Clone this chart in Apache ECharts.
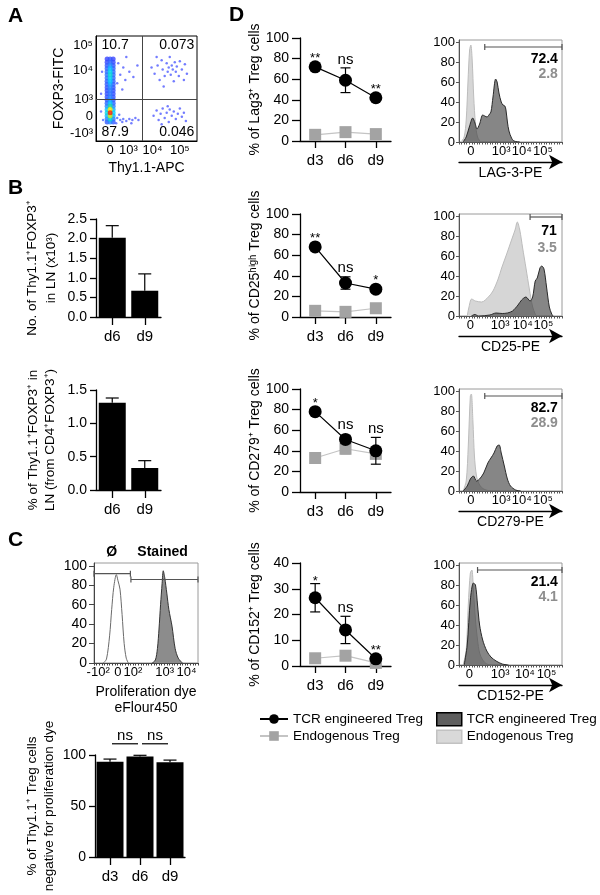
<!DOCTYPE html>
<html>
<head>
<meta charset="utf-8">
<title>Treg figure</title>
<script src="https://cdn.jsdelivr.net/npm/echarts@6.0.0/dist/echarts.min.js"></script>
<style>
html,body{margin:0;padding:0;background:#fff;}
#chart{width:600px;height:895px;}
</style>
</head>
<body>
<div id="chart"></div>
<script>
const FONT = '"Liberation Sans", Arial, Helvetica, sans-serif';

// ================= DATA =================
// ---- Panel A : flow dot plot (display units 0-100 on biexponential axes)
const flowXTickPos = [14, 32, 56, 83];
const flowXTickText = ['0', '10³', '10⁴', '10⁵'];
const flowYTickPos = [7.6, 23, 40, 67, 91];
const flowYTickText = ['-10³', '0', '10³', '10⁴', '10⁵'];
const flowGateX = 46;
const flowGateY = 40;
const flowQuadText = ['10.7', '0.073', '87.9', '0.046'];
const flowQuadPos = [[19, 91], [80, 91], [19, 8], [80, 8]];
const flowColumnX = [11, 14, 17];
const flowColumnRows = [ // [y, density at each column x]
  [78, 0.03, 0.08, 0.03],
  [75, 0.05, 0.14, 0.05],
  [72, 0.09, 0.24, 0.08],
  [69, 0.13, 0.34, 0.12],
  [66, 0.16, 0.42, 0.15],
  [63, 0.18, 0.45, 0.16],
  [60, 0.16, 0.42, 0.14],
  [57, 0.13, 0.36, 0.12],
  [54, 0.10, 0.28, 0.10],
  [51, 0.08, 0.23, 0.08],
  [48, 0.07, 0.20, 0.07],
  [45, 0.07, 0.19, 0.07],
  [42, 0.08, 0.21, 0.08],
  [39, 0.10, 0.26, 0.10],
  [36, 0.14, 0.36, 0.13],
  [33, 0.22, 0.52, 0.20],
  [30, 0.36, 0.80, 0.32],
  [27, 0.44, 1.00, 0.40],
  [24, 0.32, 0.74, 0.30],
  [21, 0.20, 0.46, 0.18],
  [18, 0.10, 0.24, 0.09]
];
const flowSparse = [ // [x, y, density]
  [58,64,0.03],[61,72,0.03],[63,58,0.03],[65,77,0.03],[66,68,0.04],[68,62,0.03],[70,74,0.04],
  [71,66,0.05],[72,70,0.05],[73,80,0.03],[74,63,0.04],[75,72,0.05],[76,68,0.05],[77,57,0.03],
  [78,75,0.04],[79,66,0.04],[80,71,0.04],[82,62,0.03],[83,76,0.03],[85,68,0.03],[87,58,0.03],
  [88,73,0.03],[90,64,0.03],[67,52,0.03],[60,80,0.03],[55,70,0.03],
  [57,24,0.03],[60,29,0.03],[62,20,0.03],[64,26,0.04],[66,31,0.03],[68,22,0.04],[70,27,0.04],
  [72,18,0.03],[73,30,0.03],[75,24,0.04],[77,28,0.03],[79,21,0.03],[81,26,0.03],[83,31,0.03],
  [85,23,0.03],[87,27,0.03],[89,19,0.03],[71,33,0.03],[65,16,0.03],
  [22,74,0.04],[24,63,0.04],[27,70,0.03],[21,55,0.04],[29,58,0.03],[33,66,0.03],[37,61,0.03],
  [26,49,0.03],[41,72,0.03],[6,66,0.04],[5,45,0.04],[30,80,0.03],
  [21,22,0.10],[24,20,0.08],[27,21,0.07],[30,19,0.06],[33,21,0.05],[36,20,0.05],[39,22,0.04],
  [42,20,0.04],[23,25,0.07],[26,18,0.06],[20,17,0.06],[7,20,0.08],[5,28,0.06],[35,17,0.04]
];

// ---- Panel B : bar charts
const bDays = ['d6', 'd9'];
const bCountMean = [2.02, 0.67];
const bCountErr = [0.31, 0.43];
const bPctMean = [1.31, 0.33];
const bPctErr = [0.07, 0.11];

// ---- Panel C : proliferation histogram + bars
const cHistTickPos = [4, 23, 37.5, 68, 89];
const cHistTickText = ['-10²', '0', '10²', '10³', '10⁴'];
const cUnstained = [[9,0],[12,4],[15,28],[17,55],[19,78],[21.5,91],[23,85],[25,76],[27,50],[29,20],[31,5],[33,0]];
const cStained = [[56,0],[59,3],[61,15],[62.5,35],[64,60],[65.5,82],[66.6,95],[68,88],[70,72],[72,55],[75,38],[78,15],[81,5],[85,0]];
const cGates = [[0, 35, 92], [35.5, 100, 86]];
const cHeaderText = ['Ø', 'Stained'];
const cHeaderPos = [[17, 114], [66, 114]];
const cDays = ['d3', 'd6', 'd9'];
const cBarMean = [93.5, 98.5, 93];
const cBarErr = [2.5, 1.2, 2];
const cBarSig = ['ns', 'ns'];
const cBarSigPairs = [[0, 1], [1, 2]];
const cBarSigLevel = 111;

// ---- Panel D : line charts
const dDays = ['d3', 'd6', 'd9'];
const lag3Tcr = [72, 59, 42];
const lag3TcrErr = [0, 12, 0];
const lag3Endo = [6, 8.6, 6.7];
const lag3EndoErr = [0, 0, 0];
const lag3Sig = ['**', 'ns', '**'];
const cd25Tcr = [68, 33, 27];
const cd25TcrErr = [0, 6, 0];
const cd25Endo = [6, 5, 8.5];
const cd25EndoErr = [0, 0, 0];
const cd25Sig = ['**', 'ns', '*'];
const cd279Tcr = [78, 51, 40];
const cd279TcrErr = [0, 4, 13];
const cd279Endo = [33, 42, 37];
const cd279EndoErr = [0, 5, 4];
const cd279Sig = ['*', 'ns', 'ns'];
const cd152Tcr = [26.5, 14, 2.8];
const cd152TcrErr = [5.5, 5.3, 0];
const cd152Endo = [3, 4, 1.2];
const cd152EndoErr = [0, 0, 0];
const cd152Sig = ['*', 'ns', '**'];

// ---- Panel D : histograms (x in display units 0-100, y in % of max)
const dHistTickText = ['0', '10³', '10⁴', '10⁵'];
const lag3HistTicks = [11.5, 41, 61, 81.5];
const cd25HistTicks = [11, 40, 62, 82];
const cd279HistTicks = [11.5, 41, 61, 81.5];
const cd152HistTicks = [10, 40, 64, 85];
const lag3HistEndo = [[2,0],[5,5],[7,22],[8.7,60],[10.3,92],[11.5,97],[12.8,82],[14.3,45],[16,18],[18,5],[21,0]];
const lag3HistTcr = [[3.9,0],[7,5],[10,15],[13.3,24],[15.5,19],[17.5,13],[20,18],[23,27],[25,26],[27.2,25],[29,27],[31,30],[33,45],[35.6,63],[37,60],[38.8,49],[41,40],[42.7,37],[44.5,36],[45.6,32],[47,20],[48.5,11],[51,4],[53.4,1],[59,0]];
const cd25HistEndo = [[8,0],[9.5,8],[12.3,17],[16,15],[22,14],[28.5,19],[33,25],[38,37],[41.4,48],[46.3,62],[51,76],[54.4,86],[56.6,94],[59,86],[61.8,68],[65,48],[68.3,27],[71.5,9],[74,2],[75.4,0]];
const cd25HistTcr = [[12,0],[15.5,1.5],[19,0],[30,1],[36,3],[42,2.5],[47,3],[52,5],[57.3,11],[60.8,16],[65,19],[69,15],[71.5,19],[74,35],[76,38],[78.6,48],[80.3,50],[82.5,47],[85,29],[87.7,9],[90,2],[91.3,0]];
const cd279HistEndo = [[4,0],[7,10],[9,45],[11,95],[12,97],[13.5,70],[15,35],[17,15],[20,6],[24,2],[30,0]];
const cd279HistTcr = [[4,0],[8,5],[11,12],[14,15],[17,10],[20,12],[24,18],[28,28],[31,33],[34,38],[37,45],[39,46],[41,38],[44,25],[47,12],[50,5],[55,1],[60,0]];
const cd152HistEndo = [[4,0],[7,15],[9,60],[11,92],[12.5,95],[14,75],[16,45],[18,25],[20,12],[23,5],[27,1],[32,0]];
const cd152HistTcr = [[5,0],[8,20],[11,65],[14,82],[16,80],[18,60],[20,40],[23,25],[27,14],[31,8],[36,4],[42,1],[48,0]];
const lag3Gate = [25, 100, 95];
const cd25Gate = [69, 100, 99];
const cd279Gate = [25, 100, 95];
const cd152Gate = [18, 100, 95];
const lag3Pct = ['72.4', '2.8'];
const cd25Pct = ['71', '3.5'];
const cd279Pct = ['82.7', '28.9'];
const cd152Pct = ['21.4', '4.1'];

// ================= BUILD =================
const grids = [], xAxes = [], yAxes = [], series = [];
const txt = (size, extra) => Object.assign({fontFamily: FONT, fontSize: size, color: '#000'}, extra || {});
function pick(pos, labels) {
  return v => { for (let i = 0; i < pos.length; i++) if (Math.abs(pos[i] - v) < 1e-6) return labels[i]; return ''; };
}
const AX = {show: true, lineStyle: {color: '#000', width: 1.3}};
const TK = (len) => ({show: true, length: len, lineStyle: {color: '#000', width: 1.3}});

function errorBars(xi, yi, means, errs, color, capW, both, z) {
  return {type: 'custom', xAxisIndex: xi, yAxisIndex: yi, z: z, silent: true,
    data: means.map((m, i) => [i, m, errs[i]]),
    renderItem: function (params, api) {
      const i = api.value(0), m = api.value(1), e = api.value(2);
      if (!e) return null;
      const t = api.coord([i, m + e]), b = api.coord([i, both ? m - e : m]);
      const st = {stroke: color, lineWidth: 1.2};
      const ch = [
        {type: 'line', shape: {x1: t[0], y1: t[1], x2: b[0], y2: b[1]}, style: st},
        {type: 'line', shape: {x1: t[0] - capW / 2, y1: t[1], x2: t[0] + capW / 2, y2: t[1]}, style: st}];
      if (both) ch.push({type: 'line', shape: {x1: b[0] - capW / 2, y1: b[1], x2: b[0] + capW / 2, y2: b[1]}, style: st});
      return {type: 'group', children: ch};
    }};
}
function sigLabels(xi, yi, means, errs, texts, markerR, z) {
  return {type: 'custom', xAxisIndex: xi, yAxisIndex: yi, z: z, silent: true, clip: false,
    data: means.map((m, i) => [i, m, errs[i]]),
    renderItem: function (params, api) {
      const i = api.value(0), m = api.value(1), e = api.value(2);
      const c = api.coord([i, m]), t = api.coord([i, m + e]);
      const top = Math.min(t[1], c[1] - markerR);
      const s = texts[params.dataIndex];
      const star = s.indexOf('*') >= 0;
      return {type: 'text', x: c[0], y: top - (star ? 2 : 8.5),
        style: {text: s, align: 'center', verticalAlign: 'middle', fontFamily: FONT, fontSize: star ? 13 : 15, fill: '#000'}};
    }};
}
function textSeries(xi, yi, pts, texts, styles, z) {
  return {type: 'custom', xAxisIndex: xi, yAxisIndex: yi, z: z || 10, silent: true, clip: false,
    data: pts.map(p => [p[0], p[1]]),
    renderItem: function (params, api) {
      const c = api.coord([api.value(0), api.value(1)]);
      const s = Array.isArray(styles) ? styles[params.dataIndex] : styles;
      return {type: 'text', x: c[0], y: c[1],
        style: {text: texts[params.dataIndex], align: s.align || 'center', verticalAlign: 'middle',
          fontFamily: FONT, fontSize: s.fontSize || 14, fontWeight: s.fontWeight || 'normal', fill: s.color || '#000'}};
    }};
}
function gateSeries(xi, yi, gates, color) {
  return {type: 'custom', xAxisIndex: xi, yAxisIndex: yi, z: 8, silent: true, clip: false,
    data: gates,
    renderItem: function (params, api) {
      const a = api.coord([api.value(0), api.value(2)]), b = api.coord([api.value(1), api.value(2)]);
      const st = {stroke: color, lineWidth: 1.2};
      return {type: 'group', children: [
        {type: 'line', shape: {x1: a[0], y1: a[1], x2: b[0], y2: b[1]}, style: st},
        {type: 'line', shape: {x1: a[0], y1: a[1] - 3, x2: a[0], y2: a[1] + 3}, style: st},
        {type: 'line', shape: {x1: b[0], y1: b[1] - 3, x2: b[0], y2: b[1] + 3}, style: st}]};
    }};
}
function brackets(xi, yi, pairs, level, texts, inset) {
  return {type: 'custom', xAxisIndex: xi, yAxisIndex: yi, z: 8, silent: true, clip: false,
    data: pairs.map(p => [p[0], level, p[1]]),
    renderItem: function (params, api) {
      const a = api.coord([api.value(0), api.value(1)]), b = api.coord([api.value(2), api.value(1)]);
      return {type: 'group', children: [
        {type: 'line', shape: {x1: a[0] + inset, y1: a[1], x2: b[0] - inset, y2: b[1]}, style: {stroke: '#000', lineWidth: 1.2}},
        {type: 'text', x: (a[0] + b[0]) / 2, y: a[1] - 8,
          style: {text: texts[params.dataIndex], align: 'center', verticalAlign: 'middle', fontSize: 15, fontFamily: FONT, fill: '#000'}}]};
    }};
}

// ---- Panel A
{
  const g = grids.length;
  grids.push({left: 96, top: 36, width: 101, height: 105, show: true, borderColor: '#000', borderWidth: 1});
  const xi = xAxes.length;
  xAxes.push({type: 'value', gridIndex: g, min: 0, max: 100,
    axisLine: {show: true, lineStyle: {color: '#000', width: 1}}, axisTick: {show: false},
    axisLabel: Object.assign(txt(13, {margin: 3}), {customValues: flowXTickPos, formatter: pick(flowXTickPos, flowXTickText)}),
    splitLine: {show: false}, name: 'Thy1.1-APC', nameLocation: 'middle', nameGap: 20, nameTextStyle: txt(14)});
  const yi = yAxes.length;
  yAxes.push({type: 'value', gridIndex: g, min: 0, max: 100,
    axisLine: {show: true, lineStyle: {color: '#000', width: 1}}, axisTick: {show: false},
    axisLabel: Object.assign(txt(13, {margin: 3}), {customValues: flowYTickPos, formatter: pick(flowYTickPos, flowYTickText)}),
    splitLine: {show: false}, name: 'FOXP3-FITC', nameLocation: 'middle', nameGap: 28, nameRotate: 90, nameTextStyle: txt(14)});
  const core = [];
  flowColumnRows.forEach(r => flowColumnX.forEach((x, j) => core.push([x, r[0], r[j + 1]])));
  core.sort((a, b) => a[2] - b[2]);
  series.push({type: 'scatter', name: 'flowSparse', xAxisIndex: xi, yAxisIndex: yi, data: flowSparse,
    symbolSize: 2.5, itemStyle: {opacity: 0.7}, silent: true, z: 2});
  series.push({type: 'scatter', name: 'flowCore', xAxisIndex: xi, yAxisIndex: yi, data: core,
    symbolSize: 5, silent: true, z: 3,
    markLine: {silent: true, symbol: ['none', 'none'], label: {show: false},
      lineStyle: {color: '#444', width: 1, type: 'solid'},
      data: [{xAxis: flowGateX}, {yAxis: flowGateY}]}});
  series.push(textSeries(xi, yi, flowQuadPos, flowQuadText, {fontSize: 14}));
}

// ---- Panel B (two bar charts)
function barChart(left, top, width, height, days, means, errs, max, interval, name, nameGap, lineH, fmt) {
  const g = grids.length;
  grids.push({left: left, top: top, width: width, height: height});
  const xi = xAxes.length;
  xAxes.push({type: 'category', gridIndex: g, data: days, boundaryGap: true, axisLine: AX,
    axisTick: Object.assign(TK(8), {alignWithLabel: true}), axisLabel: txt(15, {margin: 12}), splitLine: {show: false}});
  const yi = yAxes.length;
  yAxes.push({type: 'value', gridIndex: g, min: 0, max: max, interval: interval, axisLine: AX, axisTick: TK(6),
    axisLabel: txt(14, {margin: 9, formatter: fmt}), splitLine: {show: false},
    name: name, nameLocation: 'middle', nameGap: nameGap, nameRotate: 90, nameTextStyle: txt(13.5, {lineHeight: lineH})});
  series.push({type: 'bar', xAxisIndex: xi, yAxisIndex: yi, data: means, barWidth: 27,
    itemStyle: {color: '#000'}, silent: true, z: 2});
  series.push(errorBars(xi, yi, means, errs, '#000', 13, false, 3));
  return {xi: xi, yi: yi};
}
barChart(96, 219, 65, 98, bDays, bCountMean, bCountErr, 2.5, 0.5,
  'No. of Thy1.1⁺FOXP3⁺\nin LN (x10³)', 35, 19, v => v.toFixed(1));
barChart(96, 390, 65, 100, bDays, bPctMean, bPctErr, 1.5, 0.5,
  '% of Thy1.1⁺FOXP3⁺ in\nLN (from CD4⁺FOXP3⁺)', 37, 17, v => v.toFixed(1));

// ---- Panel C histogram
{
  const g = grids.length;
  grids.push({left: 94, top: 563, width: 104, height: 100, show: true, borderColor: '#9a9a9a', borderWidth: 1});
  const xi = xAxes.length;
  xAxes.push({type: 'value', gridIndex: g, min: 0, max: 100, interval: 2.5,
    axisLine: {show: true, lineStyle: {color: '#444', width: 1}}, axisTick: {show: true, length: 2.5, lineStyle: {color: '#444'}},
    axisLabel: Object.assign(txt(13, {margin: 3}), {customValues: cHistTickPos, formatter: pick(cHistTickPos, cHistTickText)}),
    splitLine: {show: false}, name: 'Proliferation dye\neFlour450', nameLocation: 'middle', nameGap: 21,
    nameTextStyle: txt(14, {lineHeight: 16})});
  const yi = yAxes.length;
  yAxes.push({type: 'value', gridIndex: g, min: 0, max: 103,
    axisLine: {show: true, lineStyle: {color: '#444', width: 1}},
    axisTick: {show: true, length: 5, customValues: [0, 20, 40, 60, 80, 100], lineStyle: {color: '#444'}},
    axisLabel: Object.assign(txt(14, {margin: 7}), {customValues: [0, 20, 40, 60, 80, 100]}), splitLine: {show: false}});
  series.push({type: 'line', name: 'unstained', xAxisIndex: xi, yAxisIndex: yi, data: cUnstained, smooth: 0.3,
    showSymbol: false, symbol: 'none', lineStyle: {color: '#6a6a6a', width: 1}, silent: true, z: 2});
  series.push({type: 'line', name: 'stained', xAxisIndex: xi, yAxisIndex: yi, data: cStained, smooth: 0.3,
    showSymbol: false, symbol: 'none', lineStyle: {color: '#333', width: 1}, areaStyle: {color: '#8c8c8c', opacity: 1}, silent: true, z: 2});
  series.push(gateSeries(xi, yi, cGates, '#555'));
  series.push(textSeries(xi, yi, cHeaderPos, cHeaderText, {fontSize: 14, fontWeight: 'bold'}));
}

// ---- Panel C bars
{
  const r = barChart(95, 755, 90, 102, cDays, cBarMean, cBarErr, 100, 50,
    '% of Thy1.1⁺ Treg cells\nnegative for proliferation dye', 37, 17, v => String(v));
  series.push(brackets(r.xi, r.yi, cBarSigPairs, cBarSigLevel, cBarSig, 2));
}

// ---- Panel D
const dCharts = [
  {tcr: lag3Tcr, tcrErr: lag3TcrErr, endo: lag3Endo, endoErr: lag3EndoErr, sig: lag3Sig, name: '% of Lag3⁺ Treg cells', max: 100, interval: 20,
   hEndo: lag3HistEndo, hTcr: lag3HistTcr, ticks: lag3HistTicks, gate: lag3Gate, pct: lag3Pct, pctPos: [[96, 83], [96, 68]], axisName: 'LAG-3-PE'},
  {tcr: cd25Tcr, tcrErr: cd25TcrErr, endo: cd25Endo, endoErr: cd25EndoErr, sig: cd25Sig, name: '% of CD25ʰⁱᵍʰ Treg cells', max: 100, interval: 20,
   hEndo: cd25HistEndo, hTcr: cd25HistTcr, ticks: cd25HistTicks, gate: cd25Gate, pct: cd25Pct, pctPos: [[95, 85], [95, 68]], axisName: 'CD25-PE'},
  {tcr: cd279Tcr, tcrErr: cd279TcrErr, endo: cd279Endo, endoErr: cd279EndoErr, sig: cd279Sig, name: '% of CD279⁺ Treg cells', max: 100, interval: 20,
   hEndo: cd279HistEndo, hTcr: cd279HistTcr, ticks: cd279HistTicks, gate: cd279Gate, pct: cd279Pct, pctPos: [[96, 83], [96, 68]], axisName: 'CD279-PE'},
  {tcr: cd152Tcr, tcrErr: cd152TcrErr, endo: cd152Endo, endoErr: cd152EndoErr, sig: cd152Sig, name: '% of CD152⁺ Treg cells', max: 40, interval: 10,
   hEndo: cd152HistEndo, hTcr: cd152HistTcr, ticks: cd152HistTicks, gate: cd152Gate, pct: cd152Pct, pctPos: [[96, 83], [96, 68]], axisName: 'CD152-PE'}
];
const lineTops = [38, 214, 389, 563];
const histTops = [40, 214, 389, 563];
dCharts.forEach((d, k) => {
  const g = grids.length;
  grids.push({left: 300, top: lineTops[k], width: 91, height: 103});
  const xi = xAxes.length;
  xAxes.push({type: 'category', gridIndex: g, data: dDays, boundaryGap: true, axisLine: AX,
    axisTick: Object.assign(TK(7), {alignWithLabel: true}), axisLabel: txt(15, {margin: 12}), splitLine: {show: false}});
  const yi = yAxes.length;
  yAxes.push({type: 'value', gridIndex: g, min: 0, max: d.max, interval: d.interval, axisLine: AX, axisTick: TK(8),
    axisLabel: txt(14, {margin: 11}), splitLine: {show: false},
    name: d.name, nameLocation: 'middle', nameGap: 38, nameRotate: 90, nameTextStyle: txt(14)});
  series.push(errorBars(xi, yi, d.endo, d.endoErr, '#a3a3a3', 10, true, 2));
  series.push({type: 'line', name: 'Endogenous Treg', xAxisIndex: xi, yAxisIndex: yi, data: d.endo,
    symbol: 'rect', symbolSize: 12, itemStyle: {color: '#a3a3a3'}, lineStyle: {color: '#c4c4c4', width: 1.2}, z: 3, silent: true});
  series.push(errorBars(xi, yi, d.tcr, d.tcrErr, '#000', 10, true, 4));
  series.push({type: 'line', name: 'TCR engineered Treg', xAxisIndex: xi, yAxisIndex: yi, data: d.tcr,
    symbol: 'circle', symbolSize: 13, itemStyle: {color: '#000'}, lineStyle: {color: '#000', width: 1.2}, z: 5, silent: true});
  series.push(sigLabels(xi, yi, d.tcr, d.tcrErr, d.sig, 6.5, 6));

  // histogram
  const hg = grids.length;
  grids.push({left: 459, top: histTops[k], width: 103, height: 102, show: true, borderColor: '#9a9a9a', borderWidth: 1});
  const hx = xAxes.length;
  xAxes.push({type: 'value', gridIndex: hg, min: 0, max: 100, interval: 2.5,
    axisLine: {show: true, lineStyle: {color: '#555', width: 1}}, axisTick: {show: true, length: 2.5, lineStyle: {color: '#555'}},
    axisLabel: Object.assign(txt(13, {margin: 3}), {customValues: d.ticks, formatter: pick(d.ticks, dHistTickText)}),
    splitLine: {show: false}});
  xAxes.push({type: 'value', gridIndex: hg, min: 0, max: 100, position: 'bottom', offset: 20,
    axisLine: {show: true, symbol: ['none', 'arrow'], symbolSize: [11, 13], lineStyle: {color: '#000', width: 1.3}},
    axisTick: {show: false}, axisLabel: {show: false}, splitLine: {show: false},
    name: d.axisName, nameLocation: 'middle', nameGap: 4, nameTextStyle: txt(14)});
  const hy = yAxes.length;
  yAxes.push({type: 'value', gridIndex: hg, min: 0, max: 102,
    axisLine: {show: true, lineStyle: {color: '#555', width: 1}},
    axisTick: {show: true, length: 3, customValues: [0, 20, 40, 60, 80, 100], lineStyle: {color: '#555'}},
    axisLabel: Object.assign(txt(13, {margin: 4}), {customValues: [0, 20, 40, 60, 80, 100]}), splitLine: {show: false}});
  series.push({type: 'line', name: 'Endogenous Treg (hist)', xAxisIndex: hx, yAxisIndex: hy, data: d.hEndo, smooth: 0.3,
    showSymbol: false, symbol: 'none', lineStyle: {color: '#bcbcbc', width: 1}, itemStyle: {color: '#d6d6d6'},
    areaStyle: {color: '#d6d6d6', opacity: 1}, silent: true, z: 2});
  series.push({type: 'line', name: 'TCR engineered Treg (hist)', xAxisIndex: hx, yAxisIndex: hy, data: d.hTcr, smooth: 0.3,
    showSymbol: false, symbol: 'none', lineStyle: {color: '#2a2a2a', width: 1}, itemStyle: {color: '#5e5e5e'},
    areaStyle: {color: 'rgba(60,60,60,0.62)', opacity: 1}, silent: true, z: 3});
  series.push(gateSeries(hx, hy, [d.gate], '#555'));
  series.push(textSeries(hx, hy, d.pctPos, d.pct, [
    {align: 'right', fontWeight: 'bold', color: '#000', fontSize: 14},
    {align: 'right', fontWeight: 'bold', color: '#8e8e8e', fontSize: 14}]));
});

const option = {
  animation: false,
  backgroundColor: '#fff',
  textStyle: {fontFamily: FONT},
  title: [
    {text: 'A', left: 3, top: 1, textStyle: {fontSize: 21, fontWeight: 'bold', color: '#000', fontFamily: FONT}},
    {text: 'B', left: 3, top: 173, textStyle: {fontSize: 21, fontWeight: 'bold', color: '#000', fontFamily: FONT}},
    {text: 'C', left: 3, top: 525, textStyle: {fontSize: 21, fontWeight: 'bold', color: '#000', fontFamily: FONT}},
    {text: 'D', left: 224, top: 0, textStyle: {fontSize: 21, fontWeight: 'bold', color: '#000', fontFamily: FONT}}
  ],
  visualMap: [{show: false, type: 'continuous', seriesIndex: [0, 1], dimension: 2, min: 0, max: 1,
    inRange: {color: ['#3a3aff', '#2f7bff', '#00d5ff', '#30e060', '#ffee00', '#ff2000']}}],
  legend: [
    {orient: 'vertical', left: 254, top: 707, itemWidth: 28, itemHeight: 12, itemGap: 3, selectedMode: false,
     textStyle: txt(13.5), data: ['TCR engineered Treg', 'Endogenous Treg']},
    {orient: 'vertical', left: 431, top: 707, itemWidth: 25, itemHeight: 13, itemGap: 3, selectedMode: false,
     textStyle: txt(13.5), formatter: n => n.replace(' (hist)', ''),
     data: [
       {name: 'TCR engineered Treg (hist)', icon: 'rect', itemStyle: {color: '#5e5e5e', borderColor: '#000', borderWidth: 1.5}},
       {name: 'Endogenous Treg (hist)', icon: 'rect', itemStyle: {color: '#d9d9d9', borderColor: '#c2c2c2', borderWidth: 1.5}}]}
  ],
  grid: grids,
  xAxis: xAxes,
  yAxis: yAxes,
  series: series
};
const chart = echarts.init(document.getElementById('chart'), null, {renderer: 'canvas'});
chart.setOption(option);
</script>
</body>
</html>
